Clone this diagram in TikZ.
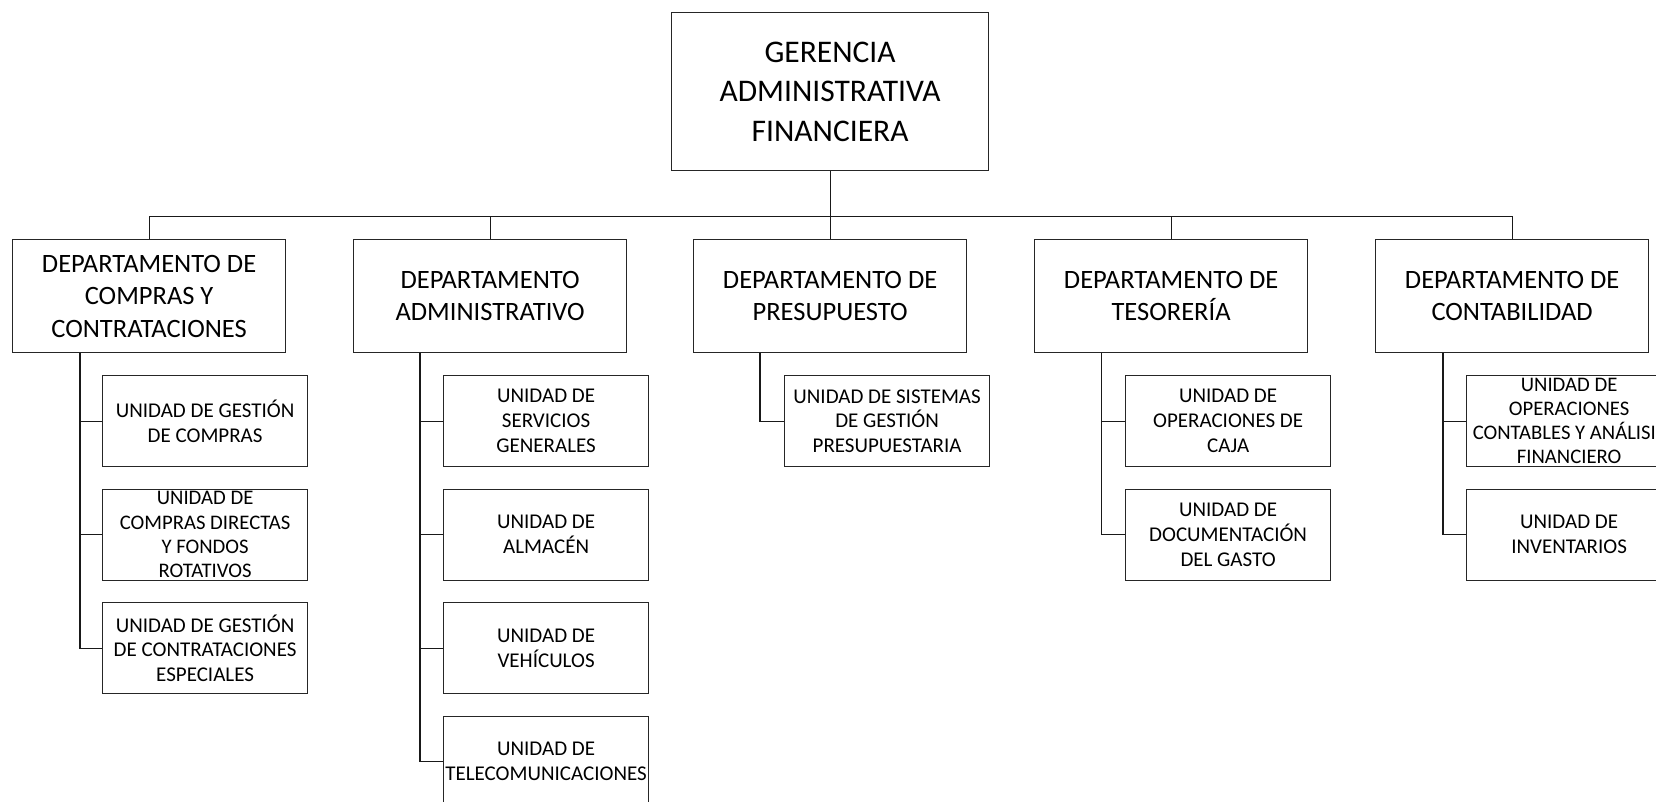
\documentclass[tikz,border=0pt]{standalone}
\usepackage{fontspec}
\setmainfont{Carlito}
\begin{document}
\begin{tikzpicture}[x=1pt,y=-1pt,
  box/.style={draw=black!85, line width=1.2pt, rectangle, inner sep=0pt, anchor=north west, align=center, text=black},
  topbox/.style={box, minimum width=317pt, minimum height=158pt, font=\fontsize{31.5}{39.5}\selectfont},
  deptbox/.style={box, minimum width=273pt, minimum height=113pt, font=\fontsize{26.5}{32.5}\selectfont},
  unitbox/.style={box, minimum width=205pt, minimum height=91pt, font=\fontsize{21}{24.8}\selectfont},
  unitfour/.style={unitbox, font=\fontsize{20.7}{24.2}\selectfont},
  link/.style={draw=black!90, line width=1.2pt}
]
\useasboundingbox (0,0) rectangle (1656,802);
\clip (0,0) rectangle (1656,802);

% top
\node[topbox] (top) at (671,12) {GERENCIA\\ADMINISTRATIVA\\FINANCIERA};

% departments
\node[deptbox] (d1) at (12,239) {DEPARTAMENTO DE\\COMPRAS Y\\CONTRATACIONES};
\node[deptbox] (d2) at (353,239) {DEPARTAMENTO\\ADMINISTRATIVO};
\node[deptbox] (d3) at (693,239) {DEPARTAMENTO DE\\PRESUPUESTO};
\node[deptbox] (d4) at (1034,239) {DEPARTAMENTO DE\\TESORERÍA};
\node[deptbox] (d5) at (1375,239) {DEPARTAMENTO DE\\CONTABILIDAD};

% units dept 1
\node[unitbox] (u11) at (102,375) {UNIDAD DE GESTIÓN\\DE COMPRAS};
\node[unitfour] (u12) at (102,488.5) {UNIDAD DE\\COMPRAS DIRECTAS\\Y FONDOS\\ROTATIVOS};
\node[unitbox] (u13) at (102,602) {UNIDAD DE GESTIÓN\\DE CONTRATACIONES\\ESPECIALES};

% units dept 2
\node[unitbox] (u21) at (443,375) {UNIDAD DE\\SERVICIOS\\GENERALES};
\node[unitbox] (u22) at (443,488.5) {UNIDAD DE\\ALMACÉN};
\node[unitbox] (u23) at (443,602) {UNIDAD DE\\VEHÍCULOS};
\node[unitbox] (u24) at (443,715.5) {UNIDAD DE\\TELECOMUNICACIONES};

% unit dept 3
\node[unitbox] (u31) at (784,375) {UNIDAD DE SISTEMAS\\DE GESTIÓN\\PRESUPUESTARIA};

% units dept 4
\node[unitbox] (u41) at (1125,375) {UNIDAD DE\\OPERACIONES DE\\CAJA};
\node[unitbox] (u42) at (1125,488.5) {UNIDAD DE\\DOCUMENTACIÓN\\DEL GASTO};

% units dept 5
\node[unitfour] (u51) at (1466,375) {UNIDAD DE\\OPERACIONES\\CONTABLES Y ANÁLISIS\\FINANCIERO};
\node[unitbox] (u52) at (1466,488.5) {UNIDAD DE\\INVENTARIOS};

% bus
\coordinate (bus) at (0,216.5);
\draw[link] (top.south) -- (top.south |- bus);
\draw[link] (d1.north |- bus) -- (d5.north |- bus);
\foreach \d in {d1,d2,d3,d4,d5}{
  \draw[link] (\d.north) -- (\d.north |- bus);
}

% trunks
\coordinate (t1) at ([xshift=68pt]d1.south west);
\coordinate (t2) at ([xshift=67pt]d2.south west);
\coordinate (t3) at ([xshift=67pt]d3.south west);
\coordinate (t4) at ([xshift=67.5pt]d4.south west);
\coordinate (t5) at ([xshift=68pt]d5.south west);

\draw[link] (t1) |- (u13.west);
\draw[link] (u11.west) -- (u11.west -| t1);
\draw[link] (u12.west) -- (u12.west -| t1);

\draw[link] (t2) |- (u24.west);
\draw[link] (u21.west) -- (u21.west -| t2);
\draw[link] (u22.west) -- (u22.west -| t2);
\draw[link] (u23.west) -- (u23.west -| t2);

\draw[link] (t3) |- (u31.west);

\draw[link] (t4) |- (u42.west);
\draw[link] (u41.west) -- (u41.west -| t4);

\draw[link] (t5) |- (u52.west);
\draw[link] (u51.west) -- (u51.west -| t5);
\end{tikzpicture}
\end{document}
